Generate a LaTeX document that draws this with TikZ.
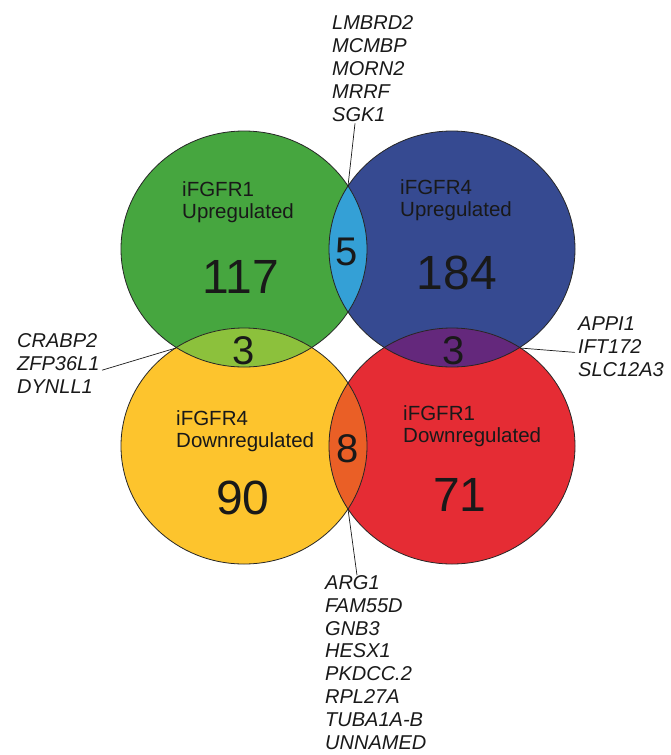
\documentclass[tikz,border=0pt]{standalone}
\usepackage{fontspec}
\setmainfont{Liberation Sans}
\definecolor{cG}{RGB}{70,166,63}
\definecolor{cB}{RGB}{54,74,145}
\definecolor{cY}{RGB}{253,196,45}
\definecolor{cR}{RGB}{229,44,52}
\definecolor{cGB}{RGB}{52,160,214}
\definecolor{cGY}{RGB}{140,193,60}
\definecolor{cBR}{RGB}{100,40,124}
\definecolor{cYR}{RGB}{234,95,38}
\definecolor{ink}{RGB}{25,25,25}
\begin{document}
\begin{tikzpicture}[x=1pt,y=-1pt,
  lbl/.style={font=\fontsize{20.5}{22}\selectfont, align=left, anchor=base west, inner sep=0pt, text=ink},
  gene/.style={font=\fontsize{20}{22.8}\selectfont\itshape, align=left, anchor=base west, inner sep=0pt, text=ink},
  bignum/.style={font=\fontsize{48}{50}\selectfont, inner sep=0pt, text=ink},
  smallnum/.style={font=\fontsize{40}{42}\selectfont, inner sep=0pt, text=ink},
  leader/.style={draw=ink, line width=0.7pt},
  outline/.style={draw=black!85, line width=0.8pt},
  vset/.style={x radius=123pt, y radius=118pt}]
\useasboundingbox (0,0) rectangle (670,755);
\coordinate (G) at (244,249);
\coordinate (B) at (452,249);
\coordinate (Y) at (244,446);
\coordinate (R) at (452,446);
% set fills
\fill[cG] (G) ellipse [vset];
\fill[cB] (B) ellipse [vset];
\fill[cY] (Y) ellipse [vset];
\fill[cR] (R) ellipse [vset];
% overlap fills
\begin{scope}\clip (G) ellipse [vset]; \fill[cGB] (B) ellipse [vset]; \end{scope}
\begin{scope}\clip (G) ellipse [vset]; \fill[cGY] (Y) ellipse [vset]; \end{scope}
\begin{scope}\clip (B) ellipse [vset]; \fill[cBR] (R) ellipse [vset]; \end{scope}
\begin{scope}\clip (Y) ellipse [vset]; \fill[cYR] (R) ellipse [vset]; \end{scope}
% outlines
\draw[outline] (G) ellipse [vset];
\draw[outline] (B) ellipse [vset];
\draw[outline] (Y) ellipse [vset];
\draw[outline] (R) ellipse [vset];
% intersection points
\coordinate (gbTop) at (348,186);
\coordinate (gyLeft) at (176,348);
\coordinate (brRight) at (520,348);
\coordinate (yrBottom) at (348,509);
% set labels (anchor = baseline of last line)
\node[lbl] (lGU) at (182,218) {iFGFR1\\Upregulated};
\node[lbl] (lBU) at (400,216) {iFGFR4\\Upregulated};
\node[lbl] (lYD) at (176,447) {iFGFR4\\Downregulated};
\node[lbl] (lRD) at (403,442) {iFGFR1\\Downregulated};
% counts
\node[bignum] (n117) at (241,277) {117};
\node[bignum] (n184) at (457,273) {184};
\node[bignum] (n90) at (243,498) {90};
\node[bignum] (n71) at (460,495) {71};
\node[smallnum] (n5) at (347,252) {5};
\node[smallnum] (n3a) at (244,351) {3};
\node[smallnum] (n3b) at (454,351) {3};
\node[smallnum] (n8) at (348,449) {8};
% gene lists (anchor = baseline of last line)
\node[gene] (topgenes) at (332,121) {LMBRD2\\MCMBP\\MORN2\\MRRF\\SGK1};
\node[gene] (leftgenes) at (17,393) {CRABP2\\ZFP36L1\\DYNLL1};
\node[gene] (rightgenes) at (578,376) {APPI1\\IFT172\\SLC12A3};
\node[gene] (botgenes) at (325,749) {ARG1\\FAM55D\\GNB3\\HESX1\\PKDCC.2\\RPL27A\\TUBA1A-B\\UNNAMED};
% leaders
\draw[leader] (gbTop) -- ([xshift=23pt,yshift=-2pt]topgenes.south west);
\draw[leader] (gyLeft) -- ([xshift=85pt,yshift=23pt]leftgenes.south west);
\draw[leader] (brRight) -- ([xshift=-3pt,yshift=24pt]rightgenes.south west);
\draw[leader] (yrBottom) -- ([xshift=32pt]botgenes.north west);
\end{tikzpicture}
\end{document}
